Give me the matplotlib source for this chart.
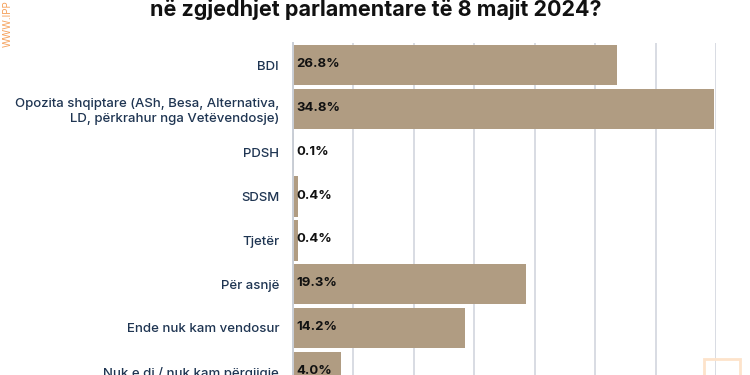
import matplotlib
matplotlib.use("Agg")
import matplotlib.pyplot as plt
from matplotlib.patches import Rectangle

categories = [
    "BDI",
    "Opozita shqiptare (ASh, Besa, Alternativa,\nLD, përkrahur nga Vetëvendosje)",
    "PDSH",
    "SDSM",
    "Tjetër",
    "Për asnjë",
    "Ende nuk kam vendosur",
    "Nuk e di / nuk kam përgjigje",
]
values = [26.8, 34.8, 0.1, 0.4, 0.4, 19.3, 14.2, 4.0]
value_labels = ["26.8%", "34.8%", "0.1%", "0.4%", "0.4%", "19.3%", "14.2%", "4.0%"]
xticks = [0, 5, 10, 15, 20, 25, 30, 35]
title = "në zgjedhjet parlamentare të 8 majit 2024?"

plt.rcParams['font.family'] = ['Inter', 'DejaVu Sans']

fig = plt.figure(figsize=(7.5, 3.75), dpi=100)
fig.patch.set_facecolor("white")
ax = fig.add_axes([293/750, 1 - 43.3/375 - 350.4/375, (716-293)/750, 350.4/375])

bar_color = "#b09c82"
label_color = "#1f3552"
ypos = list(range(len(categories)))
ax.barh(ypos, values, height=0.92, color=bar_color, zorder=3)

ax.set_xlim(0, 35)
ax.set_ylim(len(categories) - 0.5, -0.5)
ax.set_xticks(xticks)
ax.set_xticklabels([])
ax.tick_params(axis="x", length=0)
ax.grid(axis="x", color="#d8dce3", linewidth=1.4, zorder=0)
ax.set_axisbelow(True)
ax.set_yticks(ypos)
ax.set_yticklabels(categories, fontsize=9.5, color=label_color, fontweight="medium",
                   linespacing=1.25)
ax.tick_params(axis="y", length=0, pad=10)
for lab in ax.get_yticklabels():
    lab.set_horizontalalignment("right")
    lab.set_multialignment("right")
for s in ["top", "right", "bottom"]:
    ax.spines[s].set_visible(False)
ax.spines["left"].set_color("#c9ced6")
ax.spines["left"].set_linewidth(1.4)
ax.spines["left"].set_zorder(4)

for y, lab in zip(ypos, value_labels):
    ax.annotate(lab, xy=(0, y), xytext=(3, 1), textcoords="offset pixels",
                ha="left", va="center", fontsize=9.5, fontweight="bold",
                color="#111111", zorder=5)

fig.text(0.501, 1 - 10/375, title, ha="center", va="center",
         fontsize=15.5, fontweight="bold", color="#111111")

fig.text(8/750, 1 - 24/375, "WWW.IPP", rotation=90, ha="center", va="center",
         fontsize=7, color="#f5a05a")

fig.patches.append(Rectangle((704/750, -0.02), 36/750, (375-359)/375 + 0.02,
                             transform=fig.transFigure, fill=False,
                             edgecolor="#fde3cb", linewidth=2))

fig.savefig("out.png", dpi=100, facecolor="white")
